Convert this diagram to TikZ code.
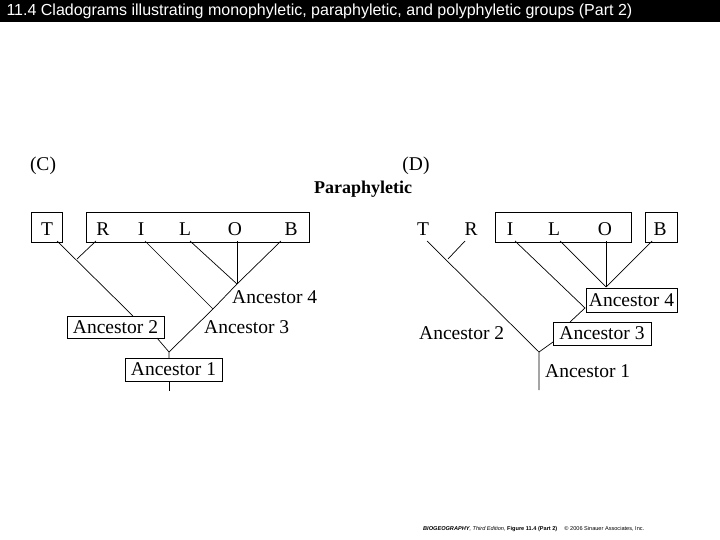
\documentclass[tikz,border=0pt]{standalone}
\usepackage{fontspec}
\setmainfont{Liberation Serif}
\newfontfamily\arial{Liberation Sans}
\begin{document}
\begin{tikzpicture}[x=1pt,y=-1pt,
 lab/.style={inner sep=0pt,font=\fontsize{19.5}{19.5}\selectfont},
 bx/.style={draw,line width=0.8pt,inner sep=0pt},
 ln/.style={line width=0.7pt}]
\useasboundingbox (0,0) rectangle (720,540);
\fill[black] (0,0) rectangle (720,22);
\node[anchor=west,text=white,font=\arial\fontsize{16}{16}\selectfont] (title) at (3,11) {11.4 Cladograms illustrating monophyletic, paraphyletic, and polyphyletic groups (Part 2)};
\node[lab] (hc) at (43,166) {(C)};
\node[lab] (hd) at (416,166) {(D)};
\node[lab,font=\bfseries\fontsize{18}{18}\selectfont] (hp) at (363,189) {Paraphyletic};
% (C)
\node[bx,minimum width=31,minimum height=30] (cT) at (46.5,227) {};
\node[bx,minimum width=223,minimum height=30] (cRB) at (197.5,227) {};
\foreach \n/\t/\x in {t/T/47,r/R/103,i/I/141,l/L/185,o/O/235,b/B/291}{\node[lab] (c\n) at (\x,229) {\t};}
\coordinate (cj2) at (77,259);
\coordinate (cj4) at (237,284);
\coordinate (cj3) at (213,309);
\coordinate (cj1) at (169,352);
\node[bx,minimum width=97,minimum height=22] (ca2) at (115.5,327) {};
\node[lab] (ca2t) at (ca2) {Ancestor 2};
\node[bx,minimum width=97,minimum height=23] (ca1) at (173.5,369.5) {};
\node[lab] (ca1t) at (ca1) {Ancestor 1};
\node[lab,anchor=west] (ca4) at (232,297) {Ancestor 4};
\node[lab,anchor=west] (ca3) at (204,327) {Ancestor 3};
\coordinate (cTt) at (57,241); \coordinate (cRt) at (96,241);
\coordinate (cIt) at (145,241); \coordinate (cLt) at (190,241);
\coordinate (cOt) at (237,241); \coordinate (cBt) at (281,241);
\coordinate (ca2s) at (133,316); \coordinate (ca2b) at (157,338);
\coordinate (ca1top) at (169,358); \coordinate (ca1bot) at (169,381); \coordinate (cend) at (169,391);
\draw[ln] (cTt) -- (ca2s);
\draw[ln] (cRt) -- (cj2);
\draw[ln] (cIt) -- (cj3);
\draw[ln] (cLt) -- (cj4);
\draw[ln] (cOt) -- (cj4);
\draw[ln] (cBt) -- (cj4) -- (cj3) -- (cj1);
\draw[ln] (ca2b) -- (cj1) -- (ca1top);
\draw[ln] (ca1bot) -- (cend);
% (D)
\node[lab] (dt) at (423,229) {T};
\node[lab] (dr) at (471,229) {R};
\node[bx,minimum width=136,minimum height=30] (dILO) at (563,227) {};
\node[bx,minimum width=32,minimum height=30] (dB) at (661,227) {};
\foreach \n/\t/\x in {i/I/510,l/L/554,o/O/605,b/B/660}{\node[lab] (d\n) at (\x,229) {\t};}
\node[bx,minimum width=91,minimum height=24] (da4) at (631.5,300) {};
\node[lab] (da4t) at (da4) {Ancestor 4};
\node[bx,minimum width=98,minimum height=23] (da3) at (602,333.5) {};
\node[lab] (da3t) at (da3) {Ancestor 3};
\node[lab,anchor=west] (da2) at (419,333) {Ancestor 2};
\node[lab,anchor=west] (da1) at (545,371) {Ancestor 1};
\coordinate (dTt) at (427,241); \coordinate (dRt) at (465,241);
\coordinate (dIt) at (515,241); \coordinate (dLt) at (560,241);
\coordinate (dOt) at (606,241); \coordinate (dBt) at (652,241);
\coordinate (dj2) at (448,259); \coordinate (dj4) at (606,287);
\coordinate (dj3) at (585,308); \coordinate (da3top) at (570,322);
\coordinate (da3bl) at (553,342); \coordinate (dj1) at (539,352);
\coordinate (dend) at (539,390);
\draw[ln] (dTt) -- (dj1) -- (dend);
\draw[ln] (dRt) -- (dj2);
\draw[ln] (dIt) -- (dj3) -- (da3top);
\draw[ln] (dLt) -- (dj4);
\draw[ln] (dOt) -- (dj4);
\draw[ln] (dBt) -- (dj4);
\draw[ln] (da3bl) -- (dj1);
\node[anchor=west,inner sep=0pt,font=\arial\fontsize{5.6}{5.6}\selectfont] (foot) at (423,529) {\textit{\textbf{BIOGEOGRAPHY}, Third Edition}, \textbf{Figure 11.4 (Part 2)} \quad\textcopyright\ 2006 Sinauer Associates, Inc.};
\end{tikzpicture}
\end{document}
